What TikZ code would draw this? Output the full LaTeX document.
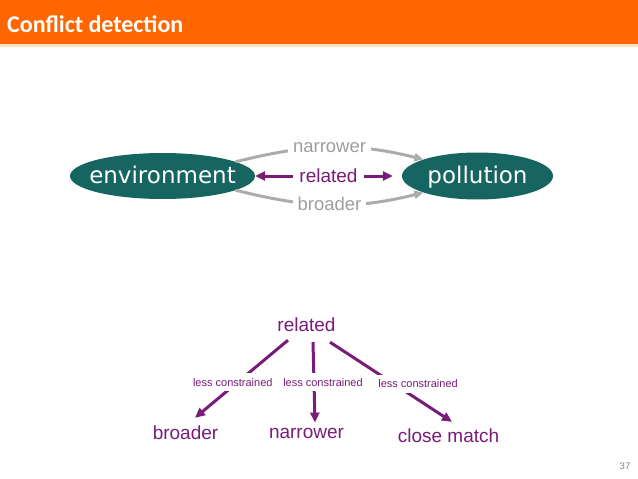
\documentclass[tikz,border=0pt]{standalone}
\usepackage{fontspec}
\setmainfont{Liberation Sans}
\newfontfamily\titlefont{Carlito}
\newfontfamily\ellfont{DejaVu Sans}
\usetikzlibrary{shapes.geometric,arrows.meta}
\definecolor{hdrorange}{RGB}{255,102,0}
\definecolor{hdrline}{RGB}{255,225,200}
\definecolor{tealfill}{RGB}{22,101,96}
\definecolor{purp}{RGB}{120,28,120}
\definecolor{gline}{RGB}{172,172,172}
\definecolor{gtext}{RGB}{158,158,158}
\definecolor{pnum}{RGB}{130,130,130}
\tikzset{
  ellnode/.style={ellipse, fill=tealfill, text=white, inner ysep=5.7pt, text height=17.5pt, text depth=3.5pt, font=\ellfont\fontsize{23}{26}\selectfont},
  grayarr/.style={draw=gline, line width=3pt, -{Triangle[length=9pt,width=8pt]}},
  purparr/.style={draw=purp, line width=3pt},
  ptip/.style={-{Triangle[length=10pt,width=9pt]}},
  glabel/.style={fill=white, text=gtext, inner xsep=5pt, inner ysep=2pt, font=\fontsize{18.5}{20}\selectfont},
  plabel/.style={fill=white, text=purp, inner xsep=6pt, inner ysep=2pt, font=\fontsize{19}{21}\selectfont},
  treenode/.style={text=purp, inner sep=0pt, font=\fontsize{19}{21}\selectfont},
  lclabel/.style={fill=white, text=purp, inner xsep=2pt, inner ysep=5pt, font=\fontsize{11}{12}\selectfont},
}
\begin{document}
\begin{tikzpicture}[x=1pt,y=1pt]
\useasboundingbox (0,0) rectangle (638,-479);
% header
\fill[hdrorange] (0,0) rectangle (638,-44);
\fill[hdrline] (0,-44) rectangle (638,-46.5);
\node[anchor=base west, text=white, inner sep=0pt, font=\titlefont\bfseries\fontsize{24}{28}\selectfont] (title) at (7,-32) {Conflict detection};
% ellipses
\node[ellnode, inner xsep=-8pt, minimum width=185pt, minimum height=46pt] (env) at (162.5,-176) {environment};
\node[ellnode, inner xsep=3pt, minimum width=151pt, minimum height=47pt] (pol) at (477.5,-176) {pollution};
% gray edges
\draw[grayarr] (env.11) to[out=14,in=166] node[glabel]{narrower} (pol.163);
\draw[grayarr] (env.-11) to[out=-14,in=-166] node[glabel, yshift=1pt]{broader} (pol.-163);
% related
\draw[purparr, {Triangle[length=10pt,width=9pt]}-{Triangle[length=10pt,width=9pt]}, shorten >=9pt] (env) -- node[plabel]{related} (pol);
% tree
\node[treenode] (rel) at (306.5,-325) {related};
\node[treenode] (bro) at (185.5,-433) {broader};
\node[treenode] (nar) at (306.5,-433) {narrower};
\node[treenode] (clm) at (448.5,-436) {close match};
\draw[purparr, ptip] ([xshift=-18.5pt,yshift=-8pt]rel.south) -- node[lclabel, pos=0.54, xshift=-5pt]{less constrained} ([xshift=9.5pt,yshift=8pt]bro.north);
\draw[purparr, ptip] ([xshift=6.5pt,yshift=-10pt]rel.south) -- node[lclabel, pos=0.5, xshift=9pt]{less constrained} ([xshift=8.5pt,yshift=5pt]nar.north);
\draw[purparr, ptip] ([xshift=23.5pt,yshift=-10pt]rel.south) -- node[lclabel, pos=0.525, xshift=24pt]{less constrained} ([xshift=3.5pt,yshift=7pt]clm.north);
% page number
\node[text=pnum, inner sep=0pt, font=\fontsize{9.5}{11}\selectfont] (pnumber) at (625,-466) {37};
\end{tikzpicture}
\end{document}
